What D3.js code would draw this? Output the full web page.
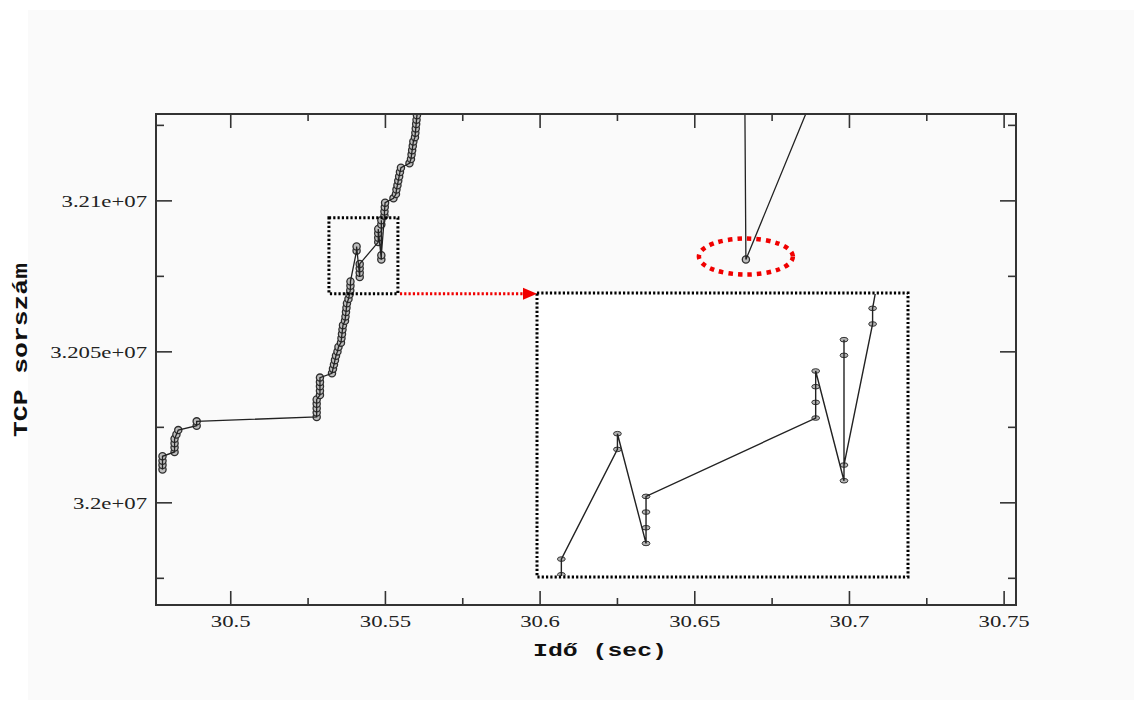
<!DOCTYPE html>
<html>
<head>
<meta charset="utf-8">
<script src="https://cdn.jsdelivr.net/npm/d3@7"></script>
<style>
  html, body { margin: 0; padding: 0; background: #ffffff; }
  svg { display: block; }
</style>
</head>
<body>
<svg id="chart" width="1134" height="702"></svg>
<script>
// Sent TCP segments: send time (s) and sequence number, in sending order
const sendTimes = [
  30.4781, 30.4781, 30.4781, 30.4781,
  30.4820, 30.4820, 30.4820, 30.4820, 30.4826, 30.4832,
  30.48915, 30.48915,
  30.52794, 30.52794, 30.52794, 30.52794, 30.52794,
  30.52900, 30.52900, 30.52900, 30.52900, 30.52900,
  30.53289,
  30.53321, 30.53353, 30.53385, 30.53418,
  30.53466, 30.53498,
  30.53579, 30.53595, 30.53612, 30.53628, 30.53644,
  30.53709, 30.53725, 30.53741, 30.53757, 30.53773,
  30.53822, 30.53854, 30.53880, 30.53886, 30.53886,
  30.54084, 30.54084,
  30.54185, 30.54185, 30.54185, 30.54185,
  30.54784, 30.54784, 30.54784, 30.54784,
  30.54884, 30.54884, 30.54884, 30.54884,
  30.54985, 30.54985,
  30.54995, 30.55005,
  30.55276, 30.55357,
  30.55373, 30.55405, 30.55431, 30.55460, 30.55486, 30.55518,
  30.55793,
  30.55842, 30.55861, 30.55880, 30.55900, 30.55919,
  30.55971, 30.55984, 30.55997, 30.56010, 30.56022, 30.56035,
  30.56048, 30.56061, 30.56074,
  30.66630, 30.66669, 30.69060
];
const seqNumbers = [
  32010892, 32012340, 32013788, 32015236,
  32016684, 32018132, 32019580, 32021028, 32022476, 32023924,
  32025372, 32026820,
  32028268, 32029716, 32031164, 32032612, 32034060,
  32035508, 32036956, 32038404, 32039852, 32041300,
  32042748,
  32044196, 32045644, 32047092, 32048540,
  32049988, 32051436,
  32052884, 32054332, 32055780, 32057228, 32058676,
  32060124, 32061572, 32063020, 32064468, 32065916,
  32067364, 32068812, 32070260, 32071708, 32073156,
  32083292, 32084740,
  32074604, 32076052, 32077500, 32078948,
  32086188, 32087636, 32089084, 32090532,
  32080396, 32091980, 32093428, 32081844,
  32094876, 32096324,
  32097772, 32099220,
  32100668, 32102116,
  32103564, 32105012, 32106460, 32107908, 32109356, 32110804,
  32112252,
  32113700, 32115148, 32116596, 32118044, 32119492,
  32120940, 32122388, 32123836, 32125284, 32126732, 32128180,
  32129628, 32131076, 32132524,
  32140000, 32080396, 32140000
];

// Axes
const timeDomain = [30.476, 30.754];
const seqDomain = [31966000, 32128600];
const xTickValues = [30.5, 30.55, 30.6, 30.65, 30.7, 30.75];
const xTickLabels = ["30.5", "30.55", "30.6", "30.65", "30.7", "30.75"];
const xMinorTicks = [30.525, 30.575, 30.625, 30.675, 30.725];
const yTickValues = [3.2e7, 3.205e7, 3.21e7];
const yTickLabels = ["3.2e+07", "3.205e+07", "3.21e+07"];
const yMinorTicks = [3.1975e7, 3.2025e7, 3.2075e7, 3.2125e7];
const xTitle = "Idő (sec)";
const yTitle = "TCP sorszám";

// Magnified window and the ranges shown in the enlarged view
const zoomTimeRange = [30.5319, 30.5542];
const zoomSeqRange = [32069100, 32094230];
const insetTimeRange = [30.5380, 30.5511];
const insetSeqRange = [32071500, 32097740];

// Retransmitted segment marked with the red ellipse
const highlightTime = 30.66669;
const highlightSeq = 32080396;

// ---------------------------------------------------------------
const W = 1134, H = 702;
const plot = { left: 156, top: 114, right: 1016, bottom: 605 };
const inset = { left: 537, top: 293, right: 908, bottom: 577 };

const svg = d3.select("#chart");
const points = sendTimes.map((t, i) => ({ t, s: seqNumbers[i] }));

// page panel
svg.append("rect").attr("x", 28).attr("y", 10)
  .attr("width", W - 28).attr("height", 690).attr("fill", "#fafafa");

const x = d3.scaleLinear().domain(timeDomain).range([plot.left, plot.right]);
const y = d3.scaleLinear().domain(seqDomain).range([plot.bottom, plot.top]);

const defs = svg.append("defs");
defs.append("clipPath").attr("id", "plotClip").append("rect")
  .attr("x", plot.left).attr("y", plot.top)
  .attr("width", plot.right - plot.left).attr("height", plot.bottom - plot.top);
defs.append("clipPath").attr("id", "insetClip").append("rect")
  .attr("x", inset.left + 1).attr("y", inset.top + 1)
  .attr("width", inset.right - inset.left - 2).attr("height", inset.bottom - inset.top - 2);

// ---- ticks (inward, on all four sides)
const tickColor = "#333";
function styleTicks(g) {
  g.select(".domain").remove();
  g.selectAll(".tick line").attr("stroke", tickColor).attr("stroke-width", 1.6);
}
const serif = "'Liberation Serif', 'Times New Roman', serif";

const gx = svg.append("g")
  .attr("transform", `translate(0,${plot.bottom})`)
  .call(d3.axisBottom(x).tickValues(xTickValues).tickSize(-14)
    .tickFormat((d, i) => xTickLabels[i]));
styleTicks(gx);
gx.selectAll(".tick text")
  .attr("y", 22).attr("dy", 0)
  .attr("transform", "scale(1.3,1)")
  .attr("font-family", serif).attr("font-size", 17.5)
  .attr("fill", "#222").attr("text-anchor", "middle");

svg.append("g").attr("transform", `translate(0,${plot.bottom})`)
  .call(d3.axisBottom(x).tickValues(xMinorTicks).tickSize(-7).tickFormat(""))
  .call(styleTicks);
svg.append("g").attr("transform", `translate(0,${plot.top})`)
  .call(d3.axisTop(x).tickValues(xTickValues).tickSize(-14).tickFormat(""))
  .call(styleTicks);
svg.append("g").attr("transform", `translate(0,${plot.top})`)
  .call(d3.axisTop(x).tickValues(xMinorTicks).tickSize(-7).tickFormat(""))
  .call(styleTicks);

const gy = svg.append("g")
  .attr("transform", `translate(${plot.left},0)`)
  .call(d3.axisLeft(y).tickValues(yTickValues).tickSize(-16)
    .tickFormat((d, i) => yTickLabels[i]));
styleTicks(gy);
gy.selectAll(".tick text")
  .attr("x", 0).attr("dy", "0.35em")
  .attr("transform", "translate(-9,0) scale(1.3,1)")
  .attr("font-family", serif).attr("font-size", 17.5)
  .attr("fill", "#222").attr("text-anchor", "end");

svg.append("g").attr("transform", `translate(${plot.left},0)`)
  .call(d3.axisLeft(y).tickValues(yMinorTicks).tickSize(-8).tickFormat(""))
  .call(styleTicks);
svg.append("g").attr("transform", `translate(${plot.right},0)`)
  .call(d3.axisRight(y).tickValues(yTickValues).tickSize(-16).tickFormat(""))
  .call(styleTicks);
svg.append("g").attr("transform", `translate(${plot.right},0)`)
  .call(d3.axisRight(y).tickValues(yMinorTicks).tickSize(-8).tickFormat(""))
  .call(styleTicks);

// ---- main series
const line = d3.line().x(d => x(d.t)).y(d => y(d.s));
const main = svg.append("g").attr("clip-path", "url(#plotClip)");
main.selectAll("circle").data(points).join("circle")
  .attr("cx", d => x(d.t)).attr("cy", d => y(d.s)).attr("r", 3.6)
  .attr("fill", "#bdbdbd").attr("stroke", "#2e2e2e").attr("stroke-width", 1.3);
main.append("path").datum(points)
  .attr("d", line).attr("fill", "none")
  .attr("stroke", "#222").attr("stroke-width", 1.3);

// frame
svg.append("rect")
  .attr("x", plot.left).attr("y", plot.top)
  .attr("width", plot.right - plot.left).attr("height", plot.bottom - plot.top)
  .attr("fill", "none").attr("stroke", "#333").attr("stroke-width", 2);

// ---- magnified view
const xi = d3.scaleLinear().domain(insetTimeRange).range([inset.left, inset.right]);
const yi = d3.scaleLinear().domain(insetSeqRange).range([inset.bottom, inset.top]);
svg.append("rect")
  .attr("x", inset.left).attr("y", inset.top)
  .attr("width", inset.right - inset.left).attr("height", inset.bottom - inset.top)
  .attr("fill", "#ffffff");
const ig = svg.append("g").attr("clip-path", "url(#insetClip)");
const inInset = points.filter(d =>
  d.t >= insetTimeRange[0] && d.t <= insetTimeRange[1] &&
  d.s >= insetSeqRange[0] && d.s <= insetSeqRange[1]);
ig.selectAll("ellipse").data(inInset).join("ellipse")
  .attr("cx", d => xi(d.t)).attr("cy", d => yi(d.s))
  .attr("rx", 3.9).attr("ry", 2.3)
  .attr("fill", "#b5b5b5").attr("stroke", "#333").attr("stroke-width", 1);
ig.append("path").datum(points)
  .attr("d", d3.line().x(d => xi(d.t)).y(d => yi(d.s)))
  .attr("fill", "none").attr("stroke", "#222").attr("stroke-width", 1.4);

const dotted = { stroke: "#000", width: 3, dash: "2.2 2.1" };
svg.append("rect")
  .attr("x", inset.left).attr("y", inset.top)
  .attr("width", inset.right - inset.left).attr("height", inset.bottom - inset.top)
  .attr("fill", "none").attr("stroke", dotted.stroke)
  .attr("stroke-width", dotted.width).attr("stroke-dasharray", dotted.dash);

// window on the main plot
const zx0 = x(zoomTimeRange[0]), zx1 = x(zoomTimeRange[1]);
const zy0 = y(zoomSeqRange[1]), zy1 = y(zoomSeqRange[0]);
svg.append("rect")
  .attr("x", zx0).attr("y", zy0).attr("width", zx1 - zx0).attr("height", zy1 - zy0)
  .attr("fill", "none").attr("stroke", dotted.stroke)
  .attr("stroke-width", dotted.width).attr("stroke-dasharray", dotted.dash);

// red pointer from window to magnified view
const red = "#f00000";
svg.append("line")
  .attr("x1", zx1 + 2).attr("y1", zy1).attr("x2", inset.left - 13).attr("y2", zy1)
  .attr("stroke", red).attr("stroke-width", 3).attr("stroke-dasharray", "2.2 2.1");
svg.append("path")
  .attr("d", `M${inset.left - 14},${zy1 - 6}L${inset.left},${zy1}L${inset.left - 14},${zy1 + 6}Z`)
  .attr("fill", red);

// red dotted ellipse around the retransmission
svg.append("ellipse")
  .attr("cx", x(highlightTime)).attr("cy", y(highlightSeq) - 3)
  .attr("rx", 47).attr("ry", 18)
  .attr("fill", "none").attr("stroke", red)
  .attr("stroke-width", 4.5).attr("stroke-dasharray", "4.5 5");

// ---- axis titles
const mono = "'Liberation Mono', 'Courier New', monospace";
svg.append("text")
  .attr("x", 600).attr("y", 656)
  .attr("text-anchor", "middle")
  .attr("font-family", mono).attr("font-weight", "bold").attr("font-size", 19)
  .attr("textLength", 134).attr("lengthAdjust", "spacingAndGlyphs")
  .attr("fill", "#111")
  .text(xTitle);
svg.append("text")
  .attr("transform", "translate(27,350) rotate(-90)")
  .attr("text-anchor", "middle")
  .attr("font-family", mono).attr("font-weight", "bold").attr("font-size", 21)
  .attr("textLength", 174).attr("lengthAdjust", "spacingAndGlyphs")
  .attr("fill", "#111")
  .text(yTitle);
</script>
</body>
</html>
